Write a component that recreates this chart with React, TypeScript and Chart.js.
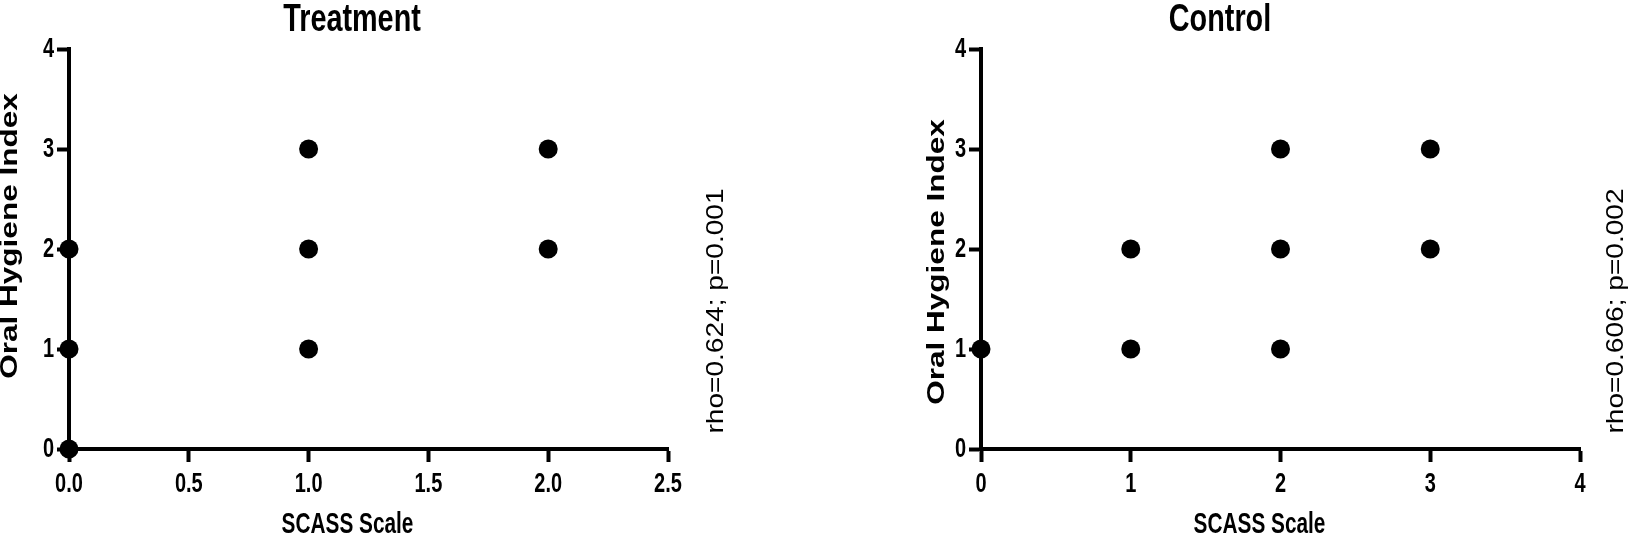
import React, { useEffect, useRef } from "react";
import { Chart, registerables } from "chart.js";

Chart.register(...registerables);

// ---- data ----
const treatmentX = [0, 0, 0, 1, 1, 1, 2, 2];
const treatmentY = [0, 1, 2, 1, 2, 3, 2, 3];
const controlX = [0, 1, 1, 2, 2, 2, 3, 3];
const controlY = [1, 1, 2, 1, 2, 3, 2, 3];

const treatmentXTicks = [0, 0.5, 1, 1.5, 2, 2.5];
const controlXTicks = [0, 1, 2, 3, 4];
const yTicks = [0, 1, 2, 3, 4];

const treatmentTitle = "Treatment";
const controlTitle = "Control";
const xAxisTitle = "SCASS Scale";
const yAxisTitle = "Oral Hygiene Index";
const treatmentStat = "rho=0.624; p=0.001";
const controlStat = "rho=0.606; p=0.002";

const FONT = '"Liberation Sans", Arial, Helvetica, sans-serif';
const CONDENSE = 0.8;
const TALL = 1.1;

// Narrow-looking text: draw every horizontal label with a horizontal squeeze
const textPlugin = {
  id: "sideTexts",
  beforeDraw(chart: any) {
    const ctx: any = chart.ctx;
    if (!ctx.__origFill) {
      const orig = ctx.fillText;
      ctx.__origFill = orig;
      ctx.fillText = function (t: string, x: number, y: number, mw?: number) {
        this.save();
        this.translate(x, y);
        this.scale(CONDENSE, TALL);
        if (mw === undefined) orig.call(this, t, 0, 0);
        else orig.call(this, t, 0, 0, mw / CONDENSE);
        this.restore();
      };
    }
  },
  afterDraw(chart: any, _args: any, opts: any) {
    const ctx: any = chart.ctx;
    const { chartArea } = chart;
    const orig = ctx.__origFill || ctx.fillText;
    const draw = (
      text: string,
      x: number,
      y: number,
      font: string,
      sx: number,
      sy: number,
      rot: number
    ) => {
      ctx.save();
      ctx.translate(x, y);
      ctx.rotate(rot);
      ctx.scale(sx, sy);
      ctx.font = font;
      ctx.fillStyle = "#000";
      ctx.textAlign = "center";
      ctx.textBaseline = "middle";
      orig.call(ctx, text, 0, 0);
      ctx.restore();
    };
    // y-axis title (rotated)
    draw(opts.yTitle, chartArea.left + opts.yTitleDx, opts.yTitleY, `bold 23px ${FONT}`, 1.37, 1, -Math.PI / 2);
    // statistic (rotated)
    draw(opts.stat, chartArea.right + opts.statDx, 311, `normal 24px ${FONT}`, 1.17, 1, -Math.PI / 2);
    // x-axis title
    draw(
      opts.xTitle,
      (chartArea.left + chartArea.right) / 2 + opts.xTitleDx,
      525,
      `bold 26px ${FONT}`,
      CONDENSE,
      TALL,
      0
    );
  },
};

function makeConfig(p: {
  xs: number[];
  ys: number[];
  xTicks: number[];
  xMax: number;
  xFmt: (v: number) => string;
  title: string;
  stat: string;
  padLeft: number;
  yAxisWidth: number;
  padRight: number;
  yTitleDx: number;
  yTitleY: number;
  statDx: number;
}) {
  const tickFont = { family: FONT, size: 25, weight: "bold" as const };
  return {
    type: "scatter" as const,
    data: {
      datasets: [
        {
          data: p.xs.map((x, i) => ({ x, y: p.ys[i] })),
          pointRadius: 9.5,
          pointHoverRadius: 9.5,
          backgroundColor: "#000",
          borderColor: "#000",
          borderWidth: 0,
          clip: false as any,
        },
      ],
    },
    options: {
      responsive: false,
      animation: false as const,
      devicePixelRatio: 1,
      layout: { padding: { left: p.padLeft, right: p.padRight, top: 0, bottom: 0 } },
      plugins: {
        legend: { display: false },
        tooltip: { enabled: false },
        title: {
          display: true,
          text: p.title,
          color: "#000",
          font: { family: FONT, size: 36, weight: "bold" as const, lineHeight: 1 },
          padding: { top: 2, bottom: 11 },
        },
        sideTexts: {
          yTitle: yAxisTitle,
          yTitleDx: p.yTitleDx,
          yTitleY: p.yTitleY,
          stat: p.stat,
          statDx: p.statDx,
          xTitle: xAxisTitle,
          xTitleDx: -21,
        },
      },
      scales: {
        x: {
          type: "linear" as const,
          min: 0,
          max: p.xMax,
          afterBuildTicks: (s: any) => {
            s.ticks = p.xTicks.map((v) => ({ value: v }));
          },
          afterFit: (s: any) => {
            s.height = 86;
          },
          grid: {
            display: true,
            drawOnChartArea: false,
            drawTicks: true,
            tickLength: 13,
            tickWidth: 4,
            tickColor: "#000",
          },
          border: { display: true, width: 4, color: "#000" },
          ticks: {
            color: "#000",
            font: tickFont,
            padding: 7,
            maxRotation: 0,
            autoSkip: false,
            callback: (v: any) => p.xFmt(Number(v)),
          },
        },
        y: {
          type: "linear" as const,
          min: 0,
          max: 4,
          afterBuildTicks: (s: any) => {
            s.ticks = yTicks.map((v) => ({ value: v }));
          },
          afterFit: (s: any) => {
            s.width = p.yAxisWidth;
          },
          grid: {
            display: true,
            drawOnChartArea: false,
            drawTicks: true,
            tickLength: 12,
            tickWidth: 4,
            tickColor: "#000",
          },
          border: { display: true, width: 4, color: "#000" },
          ticks: {
            color: "#000",
            font: tickFont,
            padding: 3,
            autoSkip: false,
            callback: (v: any) => String(v),
          },
        },
      },
    },
    plugins: [textPlugin],
  };
}

function ChartBox(props: { left: number; width: number; config: any }) {
  const ref = useRef<HTMLCanvasElement | null>(null);
  useEffect(() => {
    if (!ref.current) return;
    const chart = new Chart(ref.current, props.config);
    return () => chart.destroy();
  }, []);
  return (
    <canvas
      ref={ref}
      width={props.width}
      height={535}
      style={{ position: "absolute", left: props.left, top: 0, width: props.width, height: 535 }}
    />
  );
}

export default function App() {
  const leftCfg = makeConfig({
    xs: treatmentX,
    ys: treatmentY,
    xTicks: treatmentXTicks,
    xMax: 2.5,
    xFmt: (v) => v.toFixed(1),
    title: treatmentTitle,
    stat: treatmentStat,
    padLeft: 36,
    yAxisWidth: 33,
    padRight: 80,
    yTitleDx: -58,
    yTitleY: 236,
    statDx: 48,
  });
  const rightCfg = makeConfig({
    xs: controlX,
    ys: controlY,
    xTicks: controlXTicks,
    xMax: 4,
    xFmt: (v) => String(v),
    title: controlTitle,
    stat: controlStat,
    padLeft: 0,
    yAxisWidth: 121,
    padRight: 48,
    yTitleDx: -43,
    yTitleY: 262,
    statDx: 36,
  });
  return (
    <div style={{ position: "fixed", left: 0, top: 0, width: 1628, height: 535, background: "#fff" }}>
      <ChartBox left={0} width={748} config={leftCfg} />
      <ChartBox left={860} width={768} config={rightCfg} />
    </div>
  );
}
